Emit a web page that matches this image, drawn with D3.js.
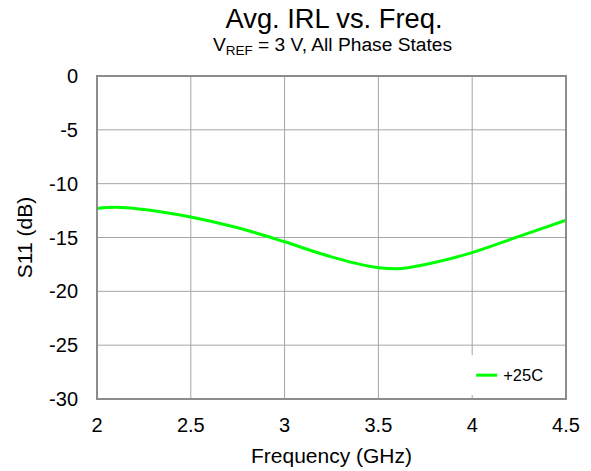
<!DOCTYPE html>
<html>
<head>
<meta charset="utf-8">
<script src="https://cdn.jsdelivr.net/npm/d3@7"></script>
<style>
  body { margin: 0; background: #fff; }
  text { font-family: "Liberation Sans", Arial, sans-serif; fill: #000; }
</style>
</head>
<body>
<svg class="chart"></svg>
<script>
// curve: frequency (GHz) -> S11 (dB)
var freq = [2.0, 2.1, 2.25, 2.5, 2.75, 3.0, 3.25, 3.5, 3.6, 3.75, 4.0, 4.25, 4.5];
var s11 = [-12.3, -12.2, -12.4, -13.1, -14.1, -15.4, -16.8, -17.8, -17.9, -17.5, -16.4, -14.9, -13.4];
var xTicks = [2, 2.5, 3, 3.5, 4, 4.5];
var yTicks = [0, -5, -10, -15, -20, -25, -30];
var seriesName = "+25C";

var W = 591, H = 471;
var margin = {top: 76, bottom: 72, left: 97, right: 25},
    width = W - margin.left - margin.right,
    height = H - margin.top - margin.bottom;

var svg = d3.select(".chart").attr("width", W).attr("height", H);
var chart = svg.append("g")
    .attr("transform", "translate(" + margin.left + "," + margin.top + ")");

var x = d3.scaleLinear().domain([2, 4.5]).range([0, width]);
var y = d3.scaleLinear().domain([-30, 0]).range([height, 0]);

// grid
chart.selectAll(".vgrid").data(xTicks.slice(1, -1)).enter().append("line")
    .attr("x1", function(d) { return x(d); }).attr("x2", function(d) { return x(d); })
    .attr("y1", 0).attr("y2", height)
    .attr("stroke", "#a6a6a6").attr("stroke-width", 1);
chart.selectAll(".hgrid").data(yTicks.slice(1, -1)).enter().append("line")
    .attr("y1", function(d) { return y(d); }).attr("y2", function(d) { return y(d); })
    .attr("x1", 0).attr("x2", width)
    .attr("stroke", "#a6a6a6").attr("stroke-width", 1);

// curve
var line = d3.line()
    .x(function(d, i) { return x(freq[i]); })
    .y(function(d) { return y(d); })
    .curve(d3.curveMonotoneX);
chart.append("path").datum(s11)
    .attr("d", line)
    .attr("fill", "none")
    .attr("stroke", "#00ff00")
    .attr("stroke-width", 3);

// legend box (white, covers grid)
var lg = chart.append("g").attr("transform", "translate(" + (x(4) - 8) + "," + (y(-25) + 10) + ")");
lg.append("rect").attr("width", 92).attr("height", 40).attr("fill", "#fff");
lg.append("line").attr("x1", 12).attr("x2", 33).attr("y1", 20).attr("y2", 20)
    .attr("stroke", "#00ff00").attr("stroke-width", 3);
lg.append("text").attr("x", 39).attr("y", 20).attr("dy", "0.35em")
    .style("font-size", "16.5px").text(seriesName);

// frame
chart.append("rect").attr("width", width).attr("height", height)
    .attr("fill", "none").attr("stroke", "#8c8c8c").attr("stroke-width", 2);

// tick labels
chart.selectAll(".xl").data(xTicks).enter().append("text")
    .attr("x", function(d) { return x(d); }).attr("y", height + 26)
    .attr("dy", "0.35em").attr("text-anchor", "middle")
    .style("font-size", "20px").text(function(d) { return d; });
chart.selectAll(".yl").data(yTicks).enter().append("text")
    .attr("x", -19).attr("y", function(d) { return y(d); })
    .attr("dy", "0.35em").attr("text-anchor", "end")
    .style("font-size", "20px").text(function(d) { return d; });

// axis titles
chart.append("text").attr("x", width / 2).attr("y", height + 64)
    .attr("text-anchor", "middle")
    .style("font-size", "21px").text("Frequency (GHz)");
chart.append("text")
    .attr("transform", "translate(" + (-72) + "," + (height / 2) + ") rotate(-90)")
    .attr("dy", "0.35em").attr("text-anchor", "middle")
    .style("font-size", "21px").text("S11 (dB)");

// titles
svg.append("text").attr("x", margin.left + width / 2 + 2.5).attr("y", 28)
    .attr("text-anchor", "middle").style("font-size", "27.3px").text("Avg. IRL vs. Freq.");
var sub = svg.append("text").attr("x", margin.left + width / 2 + 1).attr("y", 51)
    .attr("text-anchor", "middle").style("font-size", "19.2px");
sub.append("tspan").text("V");
sub.append("tspan").attr("dy", 4).style("font-size", "13.5px").text("REF");
sub.append("tspan").attr("dy", -4).text(" = 3 V, All Phase States");
</script>
</body>
</html>
